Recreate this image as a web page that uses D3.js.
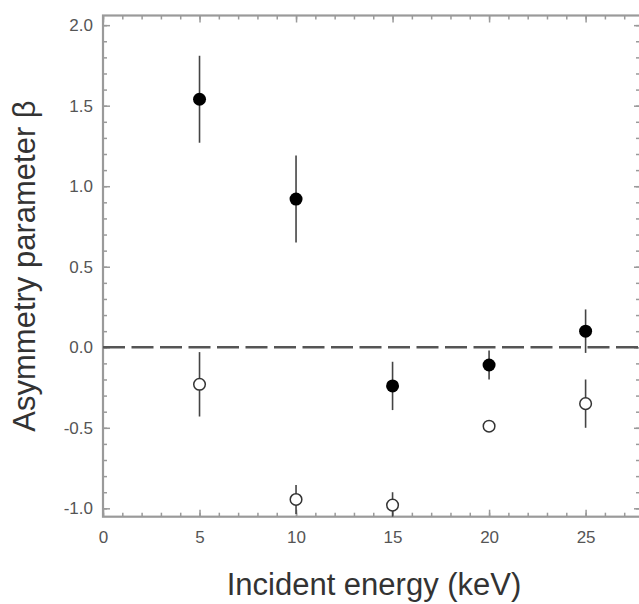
<!DOCTYPE html>
<html>
<head>
<meta charset="utf-8">
<script src="https://cdn.jsdelivr.net/npm/d3@7/dist/d3.min.js"></script>
<style>
  body { margin: 0; background: #fff; }
  svg { display: block; }
  text { font-family: "Liberation Sans", Arial, Helvetica, sans-serif; }
</style>
</head>
<body>
<svg id="chart" width="639" height="604"></svg>
<script>

// incident energies (keV)
var energies = [5, 10, 15, 20, 25];

// filled circles
var filledBeta = [1.54, 0.92, -0.24, -0.11, 0.10];
var filledErr = [0.27, 0.27, 0.15, 0.09, 0.135];

// open circles
var openBeta = [-0.23, -0.945, -0.98, -0.49, -0.35];
var openErr = [0.20, 0.09, 0.08, 0.02, 0.15];

var xTickLabels = [0, 5, 10, 15, 20, 25];
var yTickLabels = [-1.0, -0.5, 0.0, 0.5, 1.0, 1.5, 2.0];

var svg = d3.select("#chart");

var plotLeft = 103, plotRight = 641, plotTop = 15.5, plotBottom = 516.7;

var x = d3.scaleLinear()
    .domain([0, 27.87])
    .range([plotLeft, plotRight]);

var y = d3.scaleLinear()
    .domain([-1.052, 2.06])
    .range([plotBottom, plotTop]);

var frameColor = "#9a9a9a";
var labelColor = "#555";

// minor ticks
var xMinor = d3.range(0, 28, 1);
var yMinor = d3.range(-10, 21, 1).map(function(d) { return d / 10; });

function styleAxis(g) {
    g.select(".domain").remove();
    g.selectAll(".tick line")
        .attr("stroke", frameColor)
        .attr("stroke-width", 1.5);
    g.selectAll(".tick text")
        .attr("fill", labelColor)
        .style("font-size", "17px");
}

// bottom
svg.append("g")
    .attr("transform", "translate(0," + plotBottom + ")")
    .call(d3.axisBottom(x).tickValues(xMinor).tickSize(-4).tickFormat(""))
    .call(styleAxis);
svg.append("g")
    .attr("transform", "translate(0," + plotBottom + ")")
    .call(d3.axisBottom(x).tickValues(xTickLabels).tickSize(-7).tickPadding(14)
        .tickFormat(d3.format("d")))
    .call(styleAxis);

// top
svg.append("g")
    .attr("transform", "translate(0," + plotTop + ")")
    .call(d3.axisTop(x).tickValues(xMinor).tickSize(-4).tickFormat(""))
    .call(styleAxis);
svg.append("g")
    .attr("transform", "translate(0," + plotTop + ")")
    .call(d3.axisTop(x).tickValues(xTickLabels).tickSize(-7).tickFormat(""))
    .call(styleAxis);

// left
svg.append("g")
    .attr("transform", "translate(" + plotLeft + ",0)")
    .call(d3.axisLeft(y).tickValues(yMinor).tickSize(-4).tickFormat(""))
    .call(styleAxis);
svg.append("g")
    .attr("transform", "translate(" + plotLeft + ",0)")
    .call(d3.axisLeft(y).tickValues(yTickLabels).tickSize(-7).tickPadding(10)
        .tickFormat(function(d) { return d3.format(".1f")(d).replace("−", "-"); }))
    .call(styleAxis);

// right
svg.append("g")
    .attr("transform", "translate(" + plotRight + ",0)")
    .call(d3.axisRight(y).tickValues(yMinor).tickSize(-5).tickFormat(""))
    .call(styleAxis);
svg.append("g")
    .attr("transform", "translate(" + plotRight + ",0)")
    .call(d3.axisRight(y).tickValues(yTickLabels).tickSize(-7).tickFormat(""))
    .call(styleAxis);

// frame
svg.append("rect")
    .attr("x", plotLeft)
    .attr("y", plotTop)
    .attr("width", plotRight - plotLeft)
    .attr("height", plotBottom - plotTop)
    .attr("fill", "none")
    .attr("stroke", frameColor)
    .attr("stroke-width", 2.2);

// zero line
svg.append("line")
    .attr("x1", plotLeft)
    .attr("x2", plotRight)
    .attr("y1", y(0))
    .attr("y2", y(0))
    .attr("stroke", "#555")
    .attr("stroke-width", 2.5)
    .attr("stroke-dasharray", "22,6.5");

var barColor = "#444";

// error bars
function drawBars(vals, errs) {
    svg.append("g").selectAll("line")
        .data(energies)
        .enter()
        .append("line")
        .attr("x1", function(d) { return x(d); })
        .attr("x2", function(d) { return x(d); })
        .attr("y1", function(d, i) { return y(vals[i] + errs[i]); })
        .attr("y2", function(d, i) { return y(Math.max(vals[i] - errs[i], -1.052)); })
        .attr("stroke", barColor)
        .attr("stroke-width", 1.6);
}
drawBars(openBeta, openErr);
drawBars(filledBeta, filledErr);

svg.append("g").selectAll("circle")
    .data(energies)
    .enter()
    .append("circle")
    .attr("cx", function(d) { return x(d); })
    .attr("cy", function(d, i) { return y(openBeta[i]); })
    .attr("r", 5.8)
    .attr("fill", "#fff")
    .attr("stroke", "#333")
    .attr("stroke-width", 1.5);

svg.append("g").selectAll("circle")
    .data(energies)
    .enter()
    .append("circle")
    .attr("cx", function(d) { return x(d); })
    .attr("cy", function(d, i) { return y(filledBeta[i]); })
    .attr("r", 6.5)
    .attr("fill", "#000");

// axis titles
svg.append("text")
    .attr("x", 374)
    .attr("y", 595)
    .attr("text-anchor", "middle")
    .attr("fill", "#333")
    .style("font-size", "31px")
    .text("Incident energy (keV)");

svg.append("text")
    .attr("transform", "translate(35,266) rotate(-90)")
    .attr("text-anchor", "middle")
    .attr("fill", "#333")
    .style("font-size", "31px")
    .text("Asymmetry parameter β");

</script>
</body>
</html>
